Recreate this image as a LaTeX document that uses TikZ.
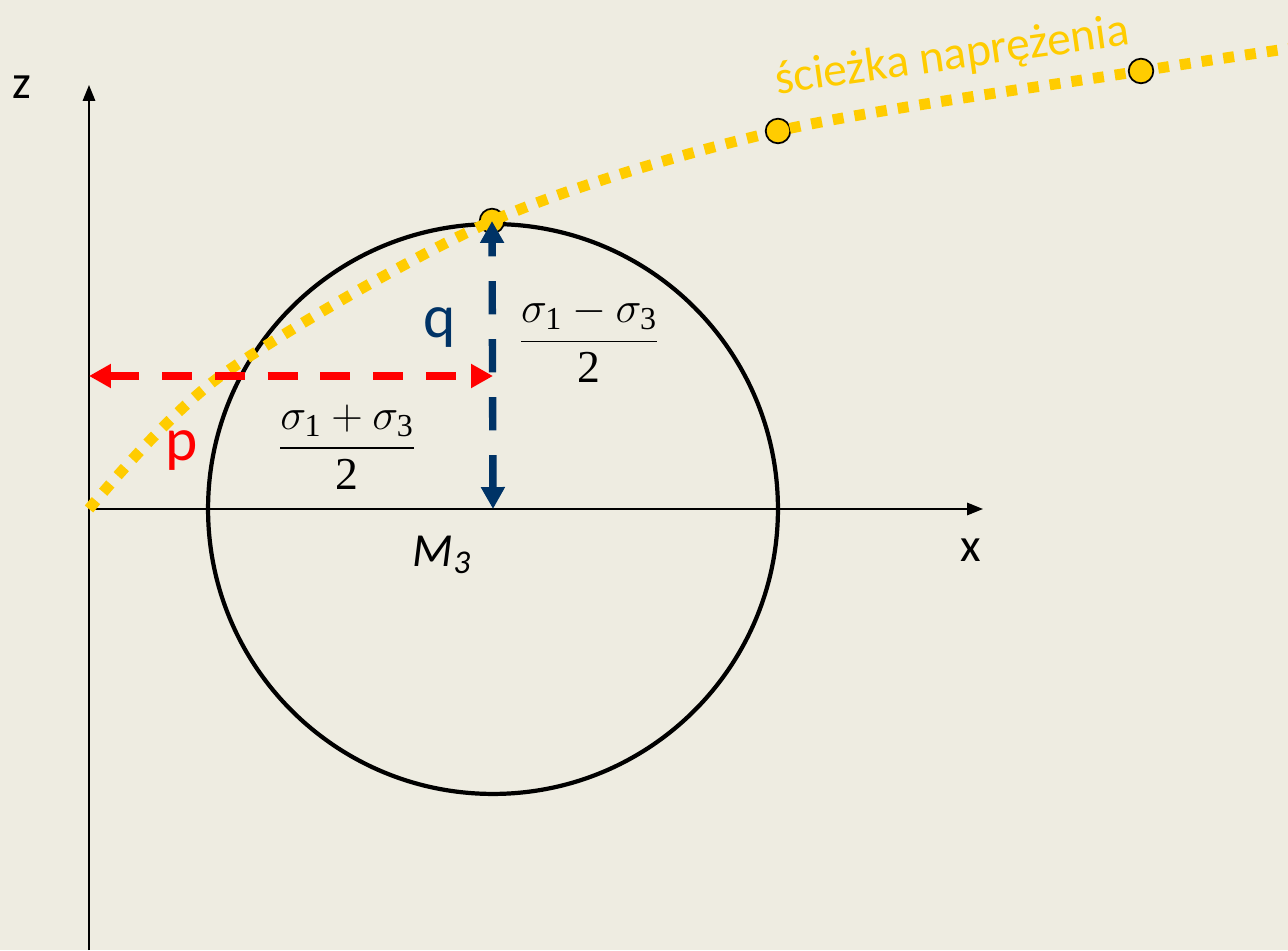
\documentclass[tikz,border=0pt]{standalone}
\usepackage{amsmath}
\usepackage{fontspec}
\setmainfont{Liberation Serif}
\newfontfamily\labelfont{Carlito}
\usepackage{tikz}
\usetikzlibrary{
  positioning,
  arrows.meta,
  calc
}
\definecolor{paperbg}{RGB}{238,236,225}
\definecolor{pathyellow}{RGB}{255,204,0}
\definecolor{qblue}{RGB}{0,51,102}
\definecolor{pred}{RGB}{255,0,0}
\tikzset{
  axisline/.style={
    line width=1.1pt, -{Triangle[length=9pt,width=7pt]}
  },
  mohrcircle/.style={
    draw=black, line width=2.4pt
  },
  stresspath/.style={
    draw=pathyellow, line width=6.2pt, dash pattern=on 6.2pt off 6.3pt
  },
  pathpoint/.style={
    circle, draw=black, fill=pathyellow, line width=1pt,
    minimum size=14pt, inner sep=0pt
  },
  parrow/.style={
    draw=pred, line width=4.2pt, dash pattern=on 17pt off 13pt,
    {Triangle[length=12.5pt,width=13pt]}-{Triangle[length=12.5pt,width=13pt]}
  },
  qarrow/.style={
    draw=qblue, line width=4.2pt, dash pattern=on 19pt off 14pt,
    {Triangle[length=12.5pt,width=13pt]}-{Triangle[length=12.5pt,width=13pt]}
  },
  axislabel/.style={
    font=\labelfont\fontsize{27}{32}\selectfont
  },
  pointlabel/.style={
    font=\labelfont\itshape\fontsize{27}{32}\selectfont
  },
  pqlabel/.style={
    font=\labelfont\fontsize{35}{40}\selectfont
  },
  fraclabel/.style={
    font=\fontsize{26}{31}\selectfont
  },
  pathtext/.style={
    text=pathyellow, font=\labelfont\fontsize{27}{31}\selectfont
  }
}
\newcommand{\halfof}[1]{$\dfrac{\sigma_{\text{1}}#1\sigma_{\text{3}}}{\text{2}}$}

\begin{document}
\begin{tikzpicture}[x=0.02cm, y=0.02cm]
    % Background
    \fill[paperbg] (0,0) rectangle (1288,950);
    \useasboundingbox (0,0) rectangle (1288,950);

    % Reference points
    \coordinate (O) at (89,441);
    \coordinate (C) at (493,441);
    \coordinate (ztop) at (89,865);
    \coordinate (zbot) at (89,0);
    \coordinate (xend) at (983,441);
    \coordinate (pq) at (493,574);

    % Mohr circle
    \draw[mohrcircle] (C) circle[radius=5.7cm];

    % Axes
    \draw[axisline] (zbot) -- (ztop);
    \draw[axisline] (O) -- (xend);
    \node[axislabel] (zlab) at (22,863) {z};
    \node[axislabel] (xlab) at (971,400) {x};
    \node[pointlabel] (mlab) at (442,395) {M\textsubscript{3}};

    % Stress path
    \node[pathpoint] (s1) at (492,729) {};
    \node[pathpoint] (s2) at (778,819) {};
    \node[pathpoint] (s3) at (1141,879) {};
    \draw[stresspath] plot[smooth] coordinates {(O) (222,575) (s1.center) (s2.center) (s3.center) (1300,903)};
    \node[pathtext, rotate=8] (pathlab) at (952,893) {ścieżka naprężenia};

    % p and q
    \draw[parrow] (O |- pq) -- (pq);
    \draw[qarrow] (C) -- (s1.center);
    \node[pqlabel, text=pred] (plab) at (182,499) {p};
    \node[pqlabel, text=qblue] (qlab) at (440,622) {q};
    \node[fraclabel] (fminus) at (589,610) {\halfof{-}};
    \node[fraclabel] (fplus) at (347,503) {\halfof{+}};

  \end{tikzpicture}
\end{document}
